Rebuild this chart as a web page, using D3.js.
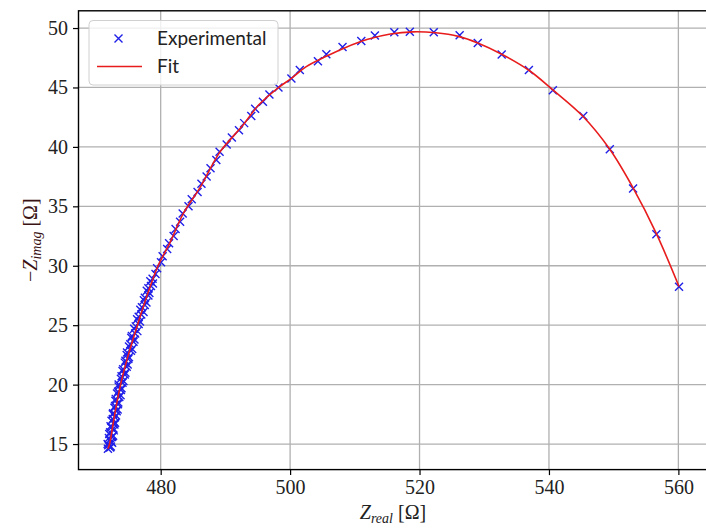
<!DOCTYPE html>
<html>
<head>
<meta charset="utf-8">
<script src="https://cdn.jsdelivr.net/npm/d3@7"></script>
<style>
  html, body { margin: 0; padding: 0; background: #fff; }
  svg { display: block; }
  .serif { font-family: "Liberation Serif", "DejaVu Serif", serif; }
  .sans { font-family: Lato, "Open Sans", sans-serif; }
</style>
</head>
<body>
<svg id="chart" width="706" height="528"></svg>
<script>
// ---- Data ----
const expReal = [
  471.85, 472.3, 471.8, 472.35, 472.0, 472.65, 472.2, 472.7, 472.25, 472.95,
  472.6, 473.1, 472.65, 473.35, 472.95, 473.45, 473.05, 473.8, 473.4, 473.95,
  473.5, 474.25, 473.95, 474.55, 474.2, 474.9, 474.55, 475.1, 474.8, 475.6,
  475.3, 475.95, 475.55, 476.4, 476.15, 476.8, 476.6, 477.35, 477.1, 477.8,
  477.55, 478.25, 478.1, 478.8, 478.75,
  472.2, 471.9, 472.5, 472.1, 472.5, 472.05, 472.75, 472.35, 472.85, 472.4,
  472.95, 472.6, 473.2, 472.85, 473.4, 473.0, 473.6, 473.25, 473.85, 473.5,
  474.1, 473.85, 474.45, 474.1, 474.75, 474.45, 475.0, 474.75, 475.4, 475.1,
  475.8, 475.45, 476.05, 475.9, 476.6, 476.35, 477.0, 476.85, 477.55, 477.4,
  478.1, 477.85, 478.5, 478.4,
  479.2, 479.45, 480.05, 480.3, 481.0, 481.3, 482.0, 482.3, 483.0, 483.4,
  484.3, 484.8, 485.7, 486.3, 487.1, 487.7, 488.6, 489.1, 490.2, 491.0,
  492.1, 492.9, 494.0, 494.6, 495.8, 496.8, 498.2,
  500.2, 501.5, 504.3, 505.6, 508.1, 511.0, 513.1, 516.1, 518.5, 522.2,
  526.2, 529.0, 532.7, 536.9, 540.6, 545.3, 549.4, 553.0, 556.6, 560.1
];
const expImag = [
  14.6, 14.8, 15.0, 15.2, 15.5, 15.7, 16.0, 16.3, 16.5, 16.8,
  17.1, 17.4, 17.6, 17.9, 18.2, 18.5, 18.8, 19.1, 19.4, 19.7,
  20.0, 20.3, 20.7, 21.0, 21.3, 21.7, 22.0, 22.3, 22.7, 23.0,
  23.4, 23.8, 24.1, 24.5, 24.9, 25.3, 25.7, 26.1, 26.5, 26.9,
  27.3, 27.7, 28.1, 28.5, 28.9,
  14.7, 14.9, 15.1, 15.35, 15.6, 15.85, 16.15, 16.4, 16.65, 16.95,
  17.25, 17.5, 17.75, 18.05, 18.35, 18.65, 18.95, 19.25, 19.55, 19.85,
  20.15, 20.5, 20.85, 21.15, 21.5, 21.85, 22.15, 22.5, 22.85, 23.2,
  23.6, 23.95, 24.3, 24.7, 25.1, 25.5, 25.9, 26.3, 26.7, 27.1,
  27.5, 27.9, 28.3, 28.7,
  29.3, 29.8, 30.3, 30.8, 31.4, 31.9, 32.5, 33.1, 33.7, 34.4,
  35.0, 35.6, 36.2, 36.9, 37.5, 38.2, 38.9, 39.6, 40.2, 40.8,
  41.4, 42.0, 42.6, 43.2, 43.8, 44.4, 45.0,
  45.76, 46.46, 47.2, 47.8, 48.4, 48.9, 49.37, 49.65, 49.68, 49.65,
  49.4, 48.75, 47.78, 46.46, 44.77, 42.59, 39.81, 36.5, 32.66, 28.23
];
const fitReal = [
  471.85, 472.1, 472.9, 473.8, 475.0, 476.4, 477.9, 479.6, 481.4, 483.5,
  486.1, 489.2, 492.6, 495.1, 498.1, 500.2, 502.5, 505.5, 508.5, 512.0,
  515.5, 519.0, 522.5, 526.0, 529.0, 532.7, 536.9, 540.6, 545.2, 549.4,
  553.0, 556.6, 560.1
];
const fitImag = [
  14.6, 15.0, 17.5, 20.0, 22.5, 25.0, 27.5, 30.0, 31.9, 34.4,
  36.6, 39.6, 41.75, 43.5, 44.95, 45.76, 46.75, 47.6, 48.35, 49.05,
  49.5, 49.68, 49.6, 49.3, 48.75, 47.8, 46.45, 44.8, 42.6, 39.8,
  36.55, 32.7, 28.25
];
const xTicks = [480, 500, 520, 540, 560];
const yTicks = [15, 20, 25, 30, 35, 40, 45, 50];
const legendLabels = ["Experimental", "Fit"];

// ---- Layout ----
const svg = d3.select("#chart");
const L = 78.5, R = 707.5, T = 10.8, B = 469.6;

const x = d3.scaleLinear().domain([467.3, 564.5]).range([L, R]);
const y = d3.scaleLinear().domain([12.85, 51.45]).range([B, T]);

// grid
const grid = svg.append("g");
grid.selectAll("line.gx").data(xTicks).join("line")
  .attr("x1", d => x(d)).attr("x2", d => x(d))
  .attr("y1", T).attr("y2", B)
  .attr("stroke", "#b0b0b0").attr("stroke-width", 1.3);
grid.selectAll("line.gy").data(yTicks).join("line")
  .attr("x1", L).attr("x2", R)
  .attr("y1", d => y(d)).attr("y2", d => y(d))
  .attr("stroke", "#b0b0b0").attr("stroke-width", 1.3);

// axes
const xAxis = d3.axisBottom(x).tickValues(xTicks).tickSize(5.5).tickPadding(5).tickSizeOuter(0);
const yAxis = d3.axisLeft(y).tickValues(yTicks).tickSize(5.5).tickPadding(5).tickSizeOuter(0);

const gx = svg.append("g").attr("transform", `translate(0,${B})`).call(xAxis);
const gy = svg.append("g").attr("transform", `translate(${L},0)`).call(yAxis);
[gx, gy].forEach(g => {
  g.attr("font-family", null).attr("font-size", null);
  g.select(".domain").remove();
  g.selectAll(".tick line").attr("stroke", "#000").attr("stroke-width", 1.2);
  g.selectAll(".tick text").attr("class", "serif")
    .style("font-family", '"Liberation Serif", "DejaVu Serif", serif')
    .style("font-size", "20px").attr("fill", "#222");
});

// markers and fit line
const line = d3.line().x(d => x(d[0])).y(d => y(d[1])).curve(d3.curveCatmullRom.alpha(0.5));
const fitData = fitReal.map((v, i) => [v, fitImag[i]]);
const expData = expReal.map((v, i) => [v, expImag[i]]);

const ms = 4;
const markerPath = `M${-ms},${-ms}L${ms},${ms}M${-ms},${ms}L${ms},${-ms}`;
svg.append("g").selectAll("path").data(expData).join("path")
  .attr("transform", d => `translate(${x(d[0])},${y(d[1])})`)
  .attr("d", markerPath)
  .attr("stroke", "#1f1fe8").attr("stroke-width", 1.4).attr("fill", "none");

svg.append("path").datum(fitData)
  .attr("d", line)
  .attr("fill", "none").attr("stroke", "#e81c1c").attr("stroke-width", 1.6);

// spines
svg.append("rect").attr("x", L).attr("y", T).attr("width", R - L).attr("height", B - T)
  .attr("fill", "none").attr("stroke", "#000").attr("stroke-width", 1.4);

// axis labels
const serifStack = '"Liberation Serif", "DejaVu Serif", serif';
const xl = svg.append("text").attr("x", (L + R) / 2).attr("y", 519)
  .attr("text-anchor", "middle").style("font-family", serifStack).style("font-size", "20px").attr("fill", "#222");
xl.append("tspan").attr("font-style", "italic").text("Z");
xl.append("tspan").attr("font-style", "italic").style("font-size", "14px").attr("dy", 4).text("real");
xl.append("tspan").attr("dy", -4).text(" [Ω]");

const yl = svg.append("text")
  .attr("transform", `translate(36.5,${(T + B) / 2}) rotate(-90)`)
  .attr("text-anchor", "middle").style("font-family", serifStack).style("font-size", "20px").attr("fill", "#3a1414");
yl.append("tspan").text("−");
yl.append("tspan").attr("font-style", "italic").text("Z");
yl.append("tspan").attr("font-style", "italic").style("font-size", "14px").attr("dy", 4).text("imag");
yl.append("tspan").attr("dy", -4).text(" [Ω]");

// legend
const lg = svg.append("g");
lg.append("rect").attr("x", 89).attr("y", 20.5).attr("width", 189).attr("height", 64.5)
  .attr("rx", 4).attr("fill", "#fff").attr("fill-opacity", 0.8)
  .attr("stroke", "#d0d0d0").attr("stroke-width", 1);
lg.append("path").attr("transform", "translate(118.5,38.5)").attr("d", markerPath)
  .attr("stroke", "#1f1fe8").attr("stroke-width", 1.4).attr("fill", "none");
lg.append("line").attr("x1", 97).attr("x2", 142).attr("y1", 66.5).attr("y2", 66.5)
  .attr("stroke", "#e81c1c").attr("stroke-width", 1.6);
lg.selectAll("text").data(legendLabels).join("text")
  .attr("x", 157).attr("y", (d, i) => 44.5 + i * 28.5)
  .style("font-family", 'Lato, "Open Sans", sans-serif').style("font-size", "19px").attr("fill", "#222")
  .text(d => d);
</script>
</body>
</html>
